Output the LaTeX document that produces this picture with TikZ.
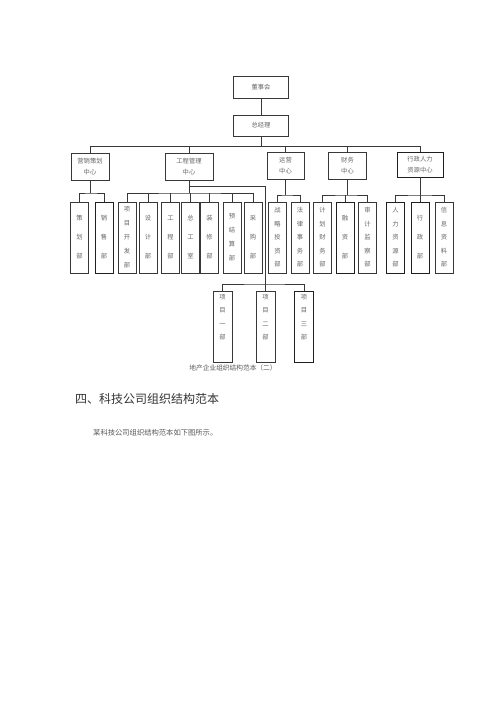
\documentclass[tikz,border=0pt]{standalone}
\usepackage{fontspec}
\newfontfamily\cjk{Noto Sans CJK SC}
\tikzset{
  ln/.style={draw=black!78, line width=0.7pt},
  bx/.style={draw=black!78, line width=0.7pt, inner sep=0pt, align=center, text=black!60,
             font=\cjk\fontsize{6.3}{11}\selectfont},
  thk/.style={line width=0.95pt, draw=black!88},
}
% sub box: name, x, baselineskip, extra options, text
\newcommand\subbox[5]{\node[bx, minimum width=18pt, minimum height=71pt,
  font=\cjk\fontsize{6.3}{#3}\selectfont, #4] (#1) at (#2,237.5) {#5};}
\newcommand\projbox[4]{\node[bx, minimum width=19pt, minimum height=71pt,
  font=\cjk\fontsize{6.3}{13.5}\selectfont, #3] (#1) at (#2,326.5) {#4\\[6pt]};}
\begin{document}
\begin{tikzpicture}[x=1pt, y=-1pt]
\fill[white] (0,0) rectangle (500,707);
\useasboundingbox (0,0) rectangle (500,707);

% top
\node[bx, minimum width=55pt, minimum height=22pt] (dsh) at (261,87) {董事会};
\node[bx, minimum width=55pt, minimum height=21pt] (zjl) at (261,125.5) {总经理};
\draw[ln] (dsh) -- (zjl);

% centers
\node[bx, minimum width=38pt, minimum height=27pt] (yx) at (90,166.5) {营销策划\\中心};
\node[bx, minimum width=48pt, minimum height=27pt] (gc) at (189,166.5) {工程管理\\中心};
\node[bx, minimum width=37pt, minimum height=27pt] (yy) at (285.5,166) {运营\\中心};
\node[bx, minimum width=38pt, minimum height=27pt] (cw) at (347.5,166) {财务\\中心};
\node[bx, thk, minimum width=46pt, minimum height=25pt] (xz) at (420,164.5) {行政人力\\资源中心};

\coordinate (top) at (261,146.5);
\draw[ln] (zjl) -- (top);
\draw[ln] (yx.north) |- (top) -| (xz.north);
\draw[ln] (gc.north) -- (gc.north |- top);
\draw[ln] (yy.north) -- (yy.north |- top);
\draw[ln] (cw.north) -- (cw.north |- top);

% sub departments
\subbox{ch}{79.5}{19}{}{策\\划\\部}
\subbox{xs}{104}{19}{thk}{销\\售\\部}
\subbox{xm}{127}{14}{}{项\\目\\开\\发\\部}
\subbox{sj}{148}{19}{}{设\\计\\部}
\subbox{gcb}{170.5}{19}{}{工\\程\\部}
\subbox{zgs}{190.5}{19}{}{总\\工\\室}
\subbox{zx}{209.5}{19}{}{装\\修\\部}
\subbox{yjs}{232}{14}{}{预\\结\\算\\部}
\subbox{cg}{253}{19}{}{采\\购\\部}
\subbox{zl}{277.5}{13.5}{}{战\\略\\投\\资\\部}
\subbox{fl}{300}{13.5}{}{法\\律\\事\\务\\部}
\subbox{jh}{322.5}{13.5}{}{计\\划\\财\\务\\部}
\subbox{rz}{345}{19}{thk}{融\\资\\部}
\subbox{sjj}{367.5}{13.5}{}{审\\计\\监\\察\\部}
\subbox{rl}{395.5}{13.5}{thk}{人\\力\\资\\源\\部}
\subbox{xzb}{420}{19}{thk}{行\\政\\部}
\subbox{xx}{444}{13.5}{}{信\\息\\资\\料\\部}

% project departments
\projbox{p1}{222.5}{}{项\\目\\一\\部}
\projbox{p2}{265.5}{}{项\\目\\二\\部}
\projbox{p3}{304}{thk}{项\\目\\三\\部}

% 营销 bus
\coordinate (byx) at (90,193);
\draw[ln] (yx.south) -- (byx);
\draw[ln] (ch.north) |- (byx) -| (xs.north);

% 工程 bus
\coordinate (bgc) at (189,193);
\draw[ln] (gc.south) -- (bgc);
\draw[ln] (xm.north) |- (bgc) -| (cg.north);
\foreach \n in {sj,gcb,zgs,zx,yjs} \draw[ln] (\n.north) -- (\n.north |- bgc);

% trunk to projects
\coordinate (tk) at (265.5,186);
\coordinate (bp) at (265.5,284);
\draw[ln] (gc.south |- tk) -- (tk) -- (bp);
\draw[ln] (p1.north) |- (bp) -| (p3.north);
\draw[ln] (p2.north) -- (bp);

% 运营 bus
\coordinate (byy) at (285.5,195);
\draw[ln] (yy.south) -- (byy);
\draw[ln] (zl.north) |- (byy) -| (fl.north);

% 财务 bus
\coordinate (bcw) at (347.5,195);
\draw[ln] (cw.south) -- (bcw);
\draw[ln] (jh.north) |- (bcw) -| (sjj.north);
\draw[ln] (rz.north) -- (rz.north |- bcw);

% 行政 bus
\coordinate (bxz) at (420,195);
\draw[ln] (xz.south) -- (bxz);
\draw[ln] (rl.north) |- (bxz) -| (xx.north);
\draw[ln] (xzb.north) -- (bxz);

% texts
\node[font=\cjk\fontsize{6.7}{8}\selectfont, text=black!65, inner sep=0pt] (cap) at (233,368) {地产企业组织结构范本（二）};
\node[anchor=west, font=\cjk\fontsize{12}{14}\selectfont, text=black!80, inner sep=0pt] (h4) at (75,399) {四、科技公司组织结构范本};
\node[anchor=west, font=\cjk\fontsize{7.3}{9}\selectfont, text=black!65, inner sep=0pt] (sent) at (93,433) {某科技公司组织结构范本如下图所示。};
\end{tikzpicture}
\end{document}
